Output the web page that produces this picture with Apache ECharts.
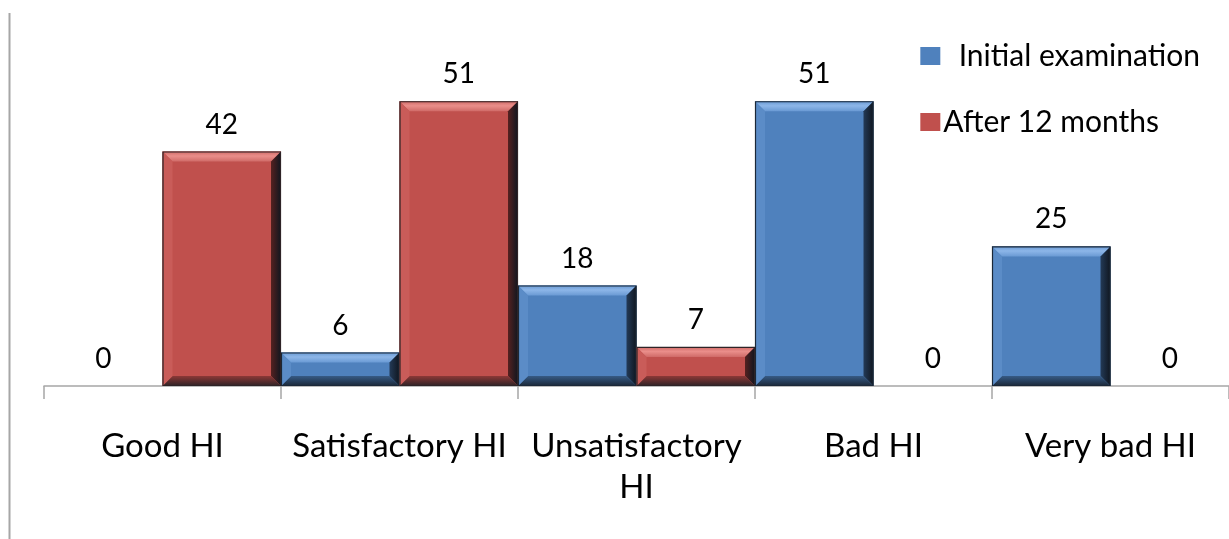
<!DOCTYPE html>
<html>
<head>
<meta charset="utf-8">
<style>
  html, body { margin: 0; padding: 0; background: #ffffff; }
  #chart { width: 1229px; height: 539px; }
</style>
<script src="https://cdn.jsdelivr.net/npm/echarts@6/dist/echarts.min.js"></script>
</head>
<body>
<div id="chart"></div>
<script>
// Hygiene index groups and patient counts at each examination
const categories = ['Good HI', 'Satisfactory HI', 'Unsatisfactory\nHI', 'Bad HI', 'Very bad HI'];
const initialExam = [0, 6, 18, 51, 25];
const after12Months = [42, 51, 7, 0, 0];
const seriesNames = ['Initial examination', 'After 12 months'];

const FONT = 'Lato';

// Palette for the two series: face, top bevel, highlight, right/bottom shade
const palettes = [
  { face: '#4f81bd', top: '#6a9ad4', light: '#8db6e8', left: '#5b8cc7', right: '#233a57', bottom: '#365a85', edge: '#1b2838' },
  { face: '#c0504d', top: '#d06b68', light: '#ea8e8a', left: '#c95c59', right: '#552120', bottom: '#8c3836', edge: '#2e2326' }
];

// Bevelled overlay drawn on top of each plain bar
function bevelRenderer(seriesIdx) {
  const pal = palettes[seriesIdx];
  return function (params, api) {
    const cat = api.value(0);
    const val = api.value(1);
    if (!val) return null;
    const base = api.coord([cat, 0]);
    const top = api.coord([cat, val]);
    const cw = api.size([1, 0])[0];
    const bw = cw / 2;
    const x0 = base[0] - cw / 2 + seriesIdx * bw;
    const x1 = x0 + bw;
    const y0 = top[1];
    const y1 = base[1];
    const b = Math.min(10, (y1 - y0) / 2);
    const poly = (pts, fill) => ({ type: 'polygon', shape: { points: pts }, style: { fill: fill }, silent: true });
    return {
      type: 'group',
      children: [
        poly([[x0, y0], [x1, y0], [x1 - b, y0 + b], [x0 + b, y0 + b]], {
          type: 'linear', x: 0, y: 0, x2: 0, y2: 1,
          colorStops: [{ offset: 0, color: pal.top }, { offset: 0.45, color: pal.light }, { offset: 1, color: pal.top }]
        }),
        poly([[x1, y0], [x1, y1], [x1 - b, y1 - b], [x1 - b, y0 + b]], {
          type: 'linear', x: 0, y: 0, x2: 1, y2: 0,
          colorStops: [{ offset: 0, color: pal.right }, { offset: 1, color: '#10161f' }]
        }),
        poly([[x0, y1], [x1, y1], [x1 - b, y1 - b], [x0 + b, y1 - b]], {
          type: 'linear', x: 0, y: 0, x2: 0, y2: 1,
          colorStops: [{ offset: 0, color: pal.bottom }, { offset: 1, color: pal.edge }]
        }),
        poly([[x0, y0], [x0 + b, y0 + b], [x0 + b, y1 - b], [x0, y1]], pal.left),
        {
          type: 'rect',
          shape: { x: x0 + 0.5, y: y0 + 0.5, width: bw - 1, height: y1 - y0 - 1 },
          style: { fill: 'none', stroke: pal.edge, lineWidth: 1.2 },
          silent: true
        }
      ]
    };
  };
}

const chart = echarts.init(document.getElementById('chart'), null, { renderer: 'canvas' });

const valueLabel = {
  show: true,
  position: 'top',
  distance: 13,
  color: '#000000',
  fontFamily: FONT,
  fontSize: 28
};

chart.setOption({
  animation: false,
  backgroundColor: '#ffffff',
  grid: { left: 44, right: 0, top: 51, bottom: 153, containLabel: false },
  legend: {
    data: seriesNames,
    orient: 'vertical',
    right: 24,
    top: 36,
    itemWidth: 20,
    itemHeight: 18,
    itemGap: 36,
    icon: 'rect',
    textStyle: { fontFamily: FONT, fontSize: 30, color: '#000000', padding: [0, 0, 0, -2] },
    formatter: function (name) { return name === seriesNames[0] ? '  ' + name : name; }
  },
  xAxis: {
    type: 'category',
    data: categories,
    boundaryGap: true,
    axisLine: { show: true, lineStyle: { color: '#a6a6a6', width: 1.5 } },
    axisTick: { show: true, length: 13, lineStyle: { color: '#a6a6a6', width: 1.5 } },
    axisLabel: {
      interval: 0,
      margin: 40,
      color: '#000000',
      fontFamily: FONT,
      fontSize: 33,
      lineHeight: 41
    }
  },
  yAxis: {
    type: 'value',
    min: 0,
    max: 60,
    show: false,
    splitLine: { show: false }
  },
  graphic: [
    {
      type: 'line',
      shape: { x1: 9.5, y1: 13, x2: 9.5, y2: 539 },
      style: { stroke: '#a6a6a6', lineWidth: 2 },
      silent: true
    }
  ],
  series: [
    {
      name: seriesNames[0],
      type: 'bar',
      data: initialExam,
      barGap: '0%',
      barCategoryGap: '0%',
      itemStyle: { color: palettes[0].face, borderColor: palettes[0].edge, borderWidth: 0 },
      label: valueLabel
    },
    {
      name: seriesNames[1],
      type: 'bar',
      data: after12Months,
      barGap: '0%',
      barCategoryGap: '0%',
      itemStyle: { color: palettes[1].face, borderColor: palettes[1].edge, borderWidth: 0 },
      label: valueLabel
    },
    {
      type: 'custom',
      renderItem: bevelRenderer(0),
      data: initialExam.map((v, i) => [i, v]),
      encode: { x: 0, y: 1 },
      silent: true,
      z: 3
    },
    {
      type: 'custom',
      renderItem: bevelRenderer(1),
      data: after12Months.map((v, i) => [i, v]),
      encode: { x: 0, y: 1 },
      silent: true,
      z: 3
    }
  ]
});
</script>
</body>
</html>
